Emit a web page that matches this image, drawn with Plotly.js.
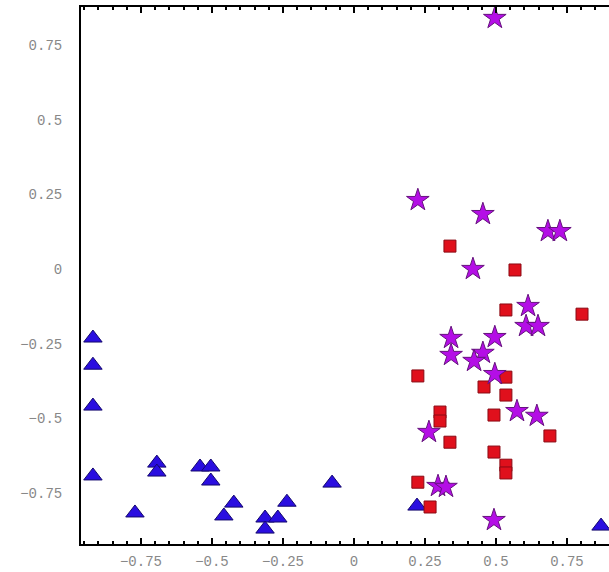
<!DOCTYPE html>
<html>
<head>
<meta charset="utf-8">
<script src="https://cdn.plot.ly/plotly-3.0.1.min.js"></script>
<style>html,body{margin:0;padding:0;background:#fff;}#chart{width:609px;height:572px;}</style>
</head>
<body>
<div id="chart"></div>
<script>
// Blue triangles
const triX = [-0.919,-0.919,-0.919,-0.919,-0.771,-0.694,-0.694,-0.542,-0.504,-0.504,-0.458,-0.423,-0.313,-0.313,-0.268,-0.236,-0.077,0.222,0.870];
const triY = [-0.231,-0.322,-0.459,-0.693,-0.817,-0.650,-0.680,-0.663,-0.663,-0.710,-0.827,-0.784,-0.834,-0.871,-0.834,-0.781,-0.717,-0.794,-0.861];
// Red squares
const sqX = [0.338,0.567,0.535,0.803,0.225,0.535,0.458,0.535,0.303,0.303,0.493,0.338,0.493,0.690,0.535,0.535,0.225,0.268];
const sqY = [0.077,-0.003,-0.137,-0.151,-0.358,-0.362,-0.395,-0.422,-0.479,-0.509,-0.489,-0.580,-0.613,-0.559,-0.657,-0.683,-0.714,-0.797];
// Purple stars
const starX = [0.496,0.225,0.454,0.683,0.725,0.419,0.613,0.606,0.648,0.342,0.496,0.342,0.454,0.423,0.496,0.574,0.644,0.264,0.296,0.324,0.493];
const starY = [0.841,0.231,0.184,0.127,0.127,0.000,-0.124,-0.191,-0.191,-0.231,-0.228,-0.288,-0.281,-0.308,-0.352,-0.476,-0.492,-0.546,-0.727,-0.730,-0.841];
// Tick labels
const tickVals = [-0.75,-0.5,-0.25,0,0.25,0.5,0.75];
const tickText = ["\u22120.75","\u22120.5","\u22120.25","0","0.25","0.5","0.75"];

const traces = [
  {x: triX, y: triY, type: 'scatter', mode: 'markers', cliponaxis: false,
   marker: {symbol: 'triangle-up', size: 16, color: '#2a0ee0', line: {color: '#14086e', width: 1}}},
  {x: sqX, y: sqY, type: 'scatter', mode: 'markers', cliponaxis: false,
   marker: {symbol: 'square', size: 12, color: '#e0101c', line: {color: '#8a0a14', width: 1}}},
  {x: starX, y: starY, type: 'scatter', mode: 'markers', cliponaxis: false,
   marker: {symbol: 'star', size: 17, color: '#b40ee6', line: {color: '#66127e', width: 1}}}
];

const font = {family: 'Liberation Mono, DejaVu Sans Mono, monospace', size: 14, color: '#888'};

const layout = {
  width: 609, height: 572,
  margin: {l: 81, r: 0, t: 7, b: 28, pad: 0},
  paper_bgcolor: '#fff', plot_bgcolor: '#fff',
  showlegend: false,
  xaxis: {
    range: [-0.961, 0.898], showgrid: false, zeroline: false,
    showline: true, linecolor: '#000', linewidth: 2, mirror: 'ticks',
    tickmode: 'array', tickvals: tickVals, ticktext: tickText,
    ticks: 'inside', ticklen: 6, tickwidth: 2, tickcolor: '#000',
    minor: {dtick: 0.05, ticks: 'inside', ticklen: 3, tickwidth: 2, tickcolor: '#000', showgrid: false},
    tickfont: font, ticklabelstandoff: 3
  },
  yaxis: {
    range: [-0.921, 0.878], showgrid: false, zeroline: false,
    showline: true, linecolor: '#000', linewidth: 2, mirror: false,
    tickmode: 'array', tickvals: tickVals, ticktext: tickText,
    ticks: '', ticklabelstandoff: 14,
    tickfont: font
  }
};

Plotly.newPlot('chart', traces, layout, {displayModeBar: false, staticPlot: true});
</script>
</body>
</html>
